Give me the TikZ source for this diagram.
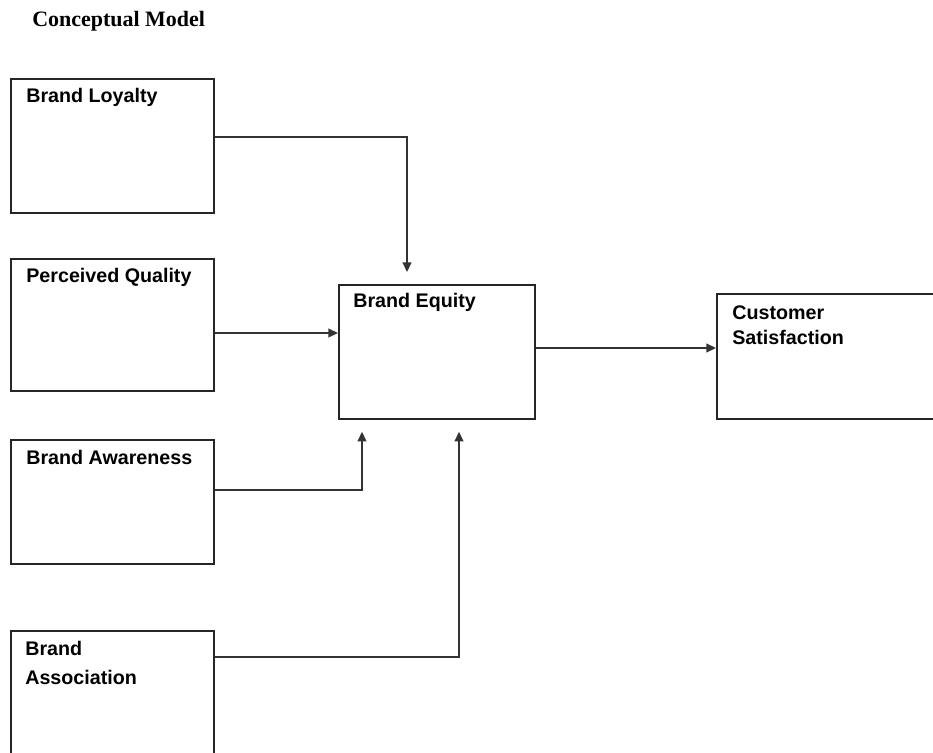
\documentclass[tikz,border=0pt]{standalone}
\usepackage{fontspec}
\setmainfont{Liberation Sans}
\newfontfamily\titlefont{Liberation Serif}
\usepackage{tikz}
\usetikzlibrary{arrows.meta}
\tikzstyle{block} = [draw=black!85, rectangle, line width=1pt, anchor=north west, inner sep=0pt]
\tikzstyle{blocktext} = [anchor=north west, inner sep=0pt, align=left, font=\fontsize{11.2}{14.2}\selectfont\bfseries]
\tikzstyle{line} = [draw=black!80, -{Triangle[length=5.5pt,width=5pt]}, line width=0.9pt]

\begin{document}
\begin{tikzpicture}[x=0.02cm,y=-0.02cm]
	\clip (0,0) rectangle (933,753);

	\node[anchor=base west, inner sep=0pt, font=\fontsize{12.5}{15}\titlefont\bfseries] (title) at (32,27) {Conceptual Model};

	% ------------------- Boxes ------------------- %
	\node[block, minimum width=4.06cm, minimum height=2.68cm] (loyalty) at (10,78) {};
	\node[block, minimum width=4.06cm, minimum height=2.64cm] (quality) at (10,258) {};
	\node[block, minimum width=4.06cm, minimum height=2.48cm] (awareness) at (10,439) {};
	\node[block, minimum width=4.06cm, minimum height=2.9cm] (association) at (10,630) {};
	\node[block, minimum width=3.92cm, minimum height=2.68cm] (equity) at (338,284) {};
	\node[block, minimum width=4.8cm, minimum height=2.5cm] (satisfaction) at (716,293) {};

	% ------------------- Box texts ------------------- %
	\node[blocktext] (loyaltytext) at ([shift={(16,10)}]loyalty.north west) {Brand Loyalty};
	\node[blocktext] (qualitytext) at ([shift={(16,10)}]quality.north west) {Perceived Quality};
	\node[blocktext] (awarenesstext) at ([shift={(16,11)}]awareness.north west) {Brand Awareness};
	\node[blocktext, font=\fontsize{11.2}{16.4}\selectfont\bfseries] (associationtext) at ([shift={(15,11)}]association.north west) {Brand\\Association};
	\node[blocktext] (equitytext) at ([shift={(15,9)}]equity.north west) {Brand Equity};
	\node[blocktext] (satisfactiontext) at ([shift={(16,12)}]satisfaction.north west) {Customer\\Satisfaction};

	% ------------------- Arrows ------------------- %
	\draw[line, shorten >=0.24cm] (loyalty.east |- 0,137) -| (equity.north -| 407,0);
	\draw[line] (quality.east |- 0,333) -- (equity.west |- 0,333);
	\draw[line, shorten >=0.24cm] (awareness.east |- 0,490) -| (equity.south -| 362,0);
	\draw[line, shorten >=0.24cm] (association.east |- 0,657) -| (equity.south -| 459,0);
	\draw[line] (equity.east |- 0,348) -- (satisfaction.west |- 0,348);
\end{tikzpicture}
\end{document}
